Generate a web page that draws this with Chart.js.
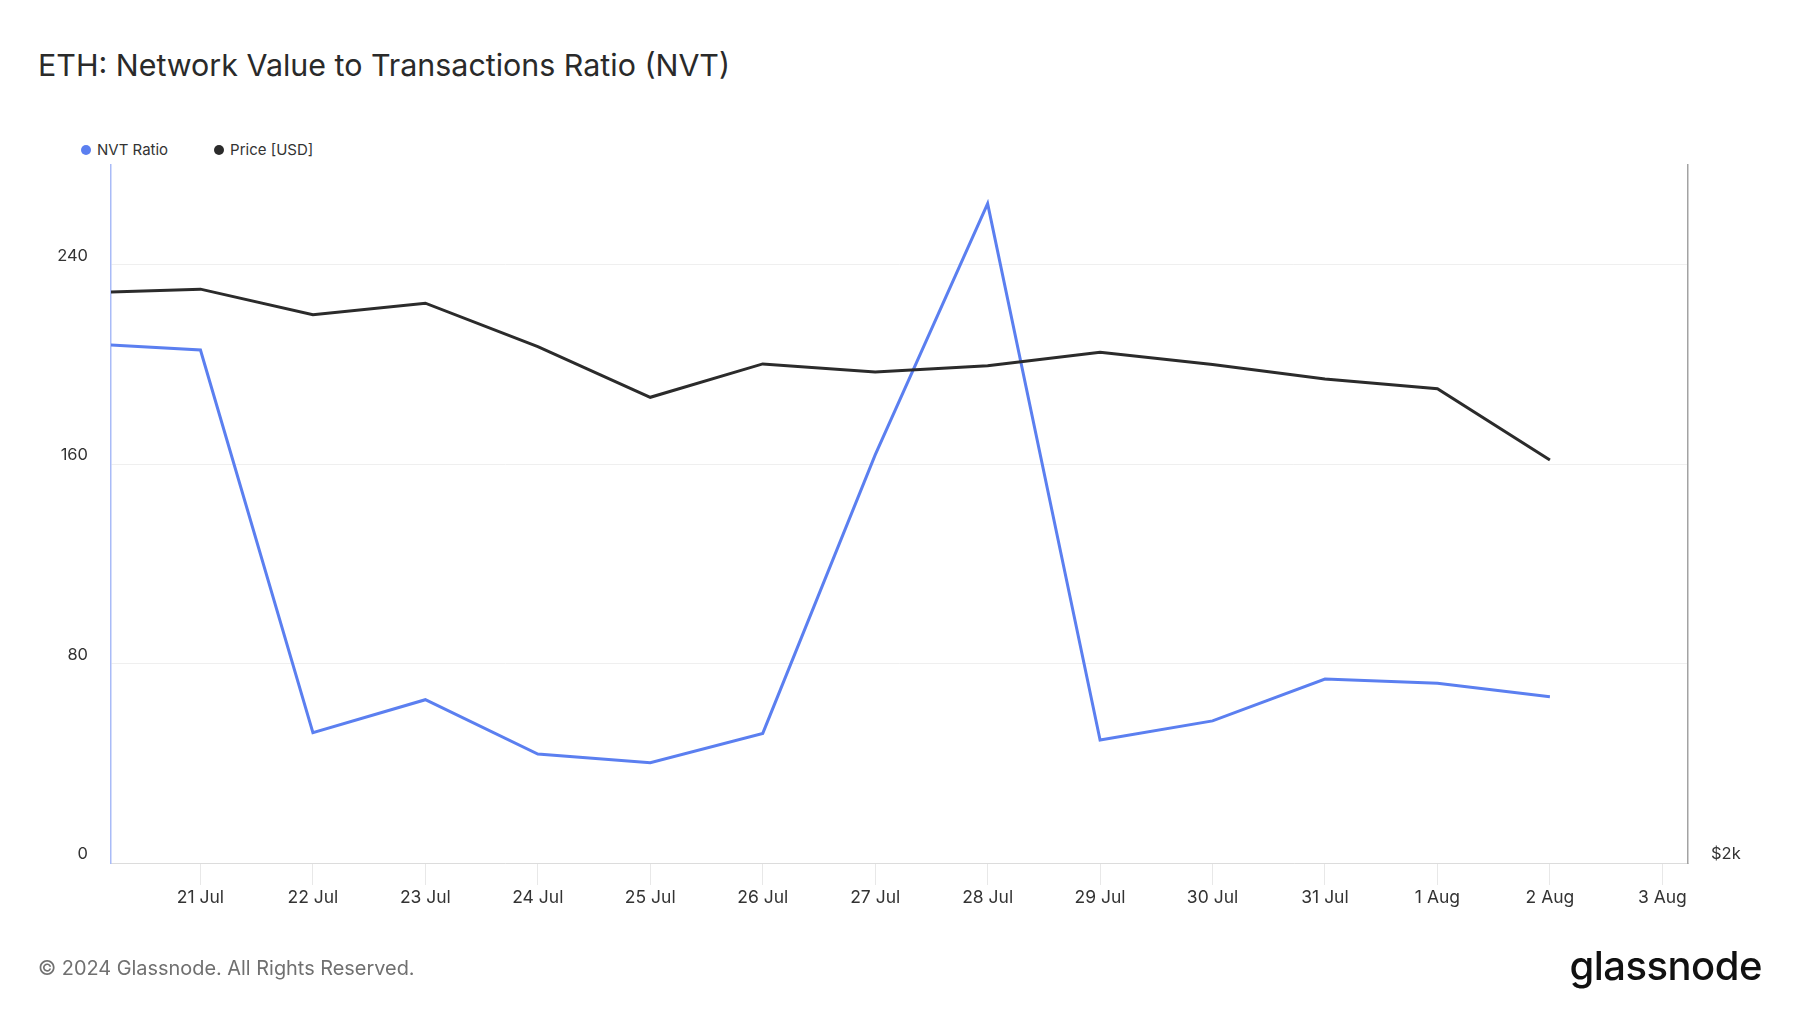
<!DOCTYPE html>
<html>
<head>
<meta charset="utf-8">
<title>ETH: Network Value to Transactions Ratio (NVT)</title>
<script src="https://cdn.jsdelivr.net/npm/chart.js@4.4.1/dist/chart.umd.min.js"></script>
<style>
  html, body { margin: 0; padding: 0; background: #fff; }
  body { width: 1800px; height: 1013px; position: relative; overflow: hidden; font-family: Inter, "Noto Sans", sans-serif; }
  #title { position: absolute; left: 38px; top: 48px; font-size: 30.4px; line-height: 34px; color: #2a2a2a; font-weight: 400; white-space: nowrap; }
  #legend { position: absolute; left: 81px; top: 140px; display: flex; gap: 46px; font-size: 15px; line-height: 20px; color: #333; }
  #legend .item { display: flex; align-items: center; }
  #legend .dot { width: 10px; height: 10px; border-radius: 50%; margin-right: 6px; }
  #footer { position: absolute; left: 38px; top: 956px; font-size: 19.9px; line-height: 24px; color: #707070; }
  #logo { position: absolute; right: 38px; top: 942px; font-size: 40px; line-height: 48px; color: #111; font-weight: 500; letter-spacing: -0.5px; }
  #chart { position: absolute; left: 0; top: 0; }
</style>
</head>
<body>
<div id="title">ETH: Network Value to Transactions Ratio (NVT)</div>
<div id="legend"></div>
<canvas id="chart" width="1800" height="1013"></canvas>
<div id="footer">© 2024 Glassnode. All Rights Reserved.</div>
<div id="logo">glassnode</div>
<script>
// days shown on the x axis (index 0 = 20 Jul)
const dates = ["20 Jul", "21 Jul", "22 Jul", "23 Jul", "24 Jul", "25 Jul", "26 Jul",
               "27 Jul", "28 Jul", "29 Jul", "30 Jul", "31 Jul", "1 Aug", "2 Aug", "3 Aug"];

// values, 20 Jul .. 2 Aug
const nvtRatio = [208.3, 205.8, 52.3, 65.5, 43.7, 40.2, 52.0, 163.7, 264.5, 49.3, 57.0, 73.8, 72.1, 66.7];
const priceUsd = [3524, 3536, 3447, 3487, 3340, 3176, 3283, 3257, 3277, 3321, 3281, 3234, 3203, 2984];

const nvtColor = "#5b7ff0";
const priceColor = "#2b2b2b";

const ctx = document.getElementById("chart").getContext("2d");
const chart = new Chart(ctx, {
  type: "line",
  data: {
    datasets: [
      {
        label: "NVT Ratio",
        data: nvtRatio.map((v, i) => ({ x: i, y: v })),
        borderColor: nvtColor,
        backgroundColor: nvtColor,
        borderWidth: 3,
        pointRadius: 0,
        tension: 0,
        yAxisID: "y",
        order: 1
      },
      {
        label: "Price [USD]",
        data: priceUsd.map((v, i) => ({ x: i, y: v })),
        borderColor: priceColor,
        backgroundColor: priceColor,
        borderWidth: 3,
        pointRadius: 0,
        tension: 0,
        yAxisID: "price",
        order: 0
      }
    ]
  },
  options: {
    responsive: false,
    animation: false,
    devicePixelRatio: 1,
    layout: { padding: { top: 165, bottom: 90, left: 0, right: 0 } },
    plugins: {
      legend: { display: false },
      tooltip: { enabled: false }
    },
    scales: {
      x: {
        type: "linear",
        min: 0.2045,
        max: 14.228,
        afterBuildTicks: s => { s.ticks = dates.slice(1).map((_, i) => ({ value: i + 1 })); },
        afterFit: s => { s.height = 60; },
        ticks: {
          callback: v => dates[v],
          font: { family: "Inter", size: 17.5 },
          color: "#333",
          padding: 2,
          maxRotation: 0,
          autoSkip: false
        },
        grid: { drawOnChartArea: false, drawTicks: true, tickLength: 22, color: "#e8e8e8" },
        border: { color: "#dcdcdc", width: 1 }
      },
      y: {
        position: "left",
        min: 0,
        max: 280,
        afterFit: s => { s.width = 111; },
        ticks: {
          stepSize: 40,
          callback: v => (v % 80 === 0 && v < 280 ? v : null),
          font: { family: "Inter", size: 16.5 },
          color: "#333",
          padding: 23,
          labelOffset: -9
        },
        grid: { color: "#efefef", drawTicks: false },
        border: { color: "#a9bbf7", width: 1.5 }
      },
      price: {
        type: "logarithmic",
        position: "right",
        min: 2000,
        max: 4000,
        afterFit: s => { s.width = 112; },
        afterBuildTicks: s => { s.ticks = [{ value: 2000 }]; },
        ticks: {
          callback: v => "$" + (v / 1000) + "k",
          font: { family: "Inter", size: 16.5 },
          color: "#333",
          padding: 23,
          labelOffset: -9
        },
        grid: { drawOnChartArea: false, drawTicks: false },
        border: { color: "#a3a3a3", width: 1.5 }
      }
    }
  }
});

// html legend built from the datasets
const legend = document.getElementById("legend");
chart.data.datasets.forEach(ds => {
  const item = document.createElement("div");
  item.className = "item";
  const dot = document.createElement("span");
  dot.className = "dot";
  dot.style.background = ds.borderColor;
  const txt = document.createElement("span");
  txt.textContent = ds.label;
  item.appendChild(dot);
  item.appendChild(txt);
  legend.appendChild(item);
});
</script>
</body>
</html>
